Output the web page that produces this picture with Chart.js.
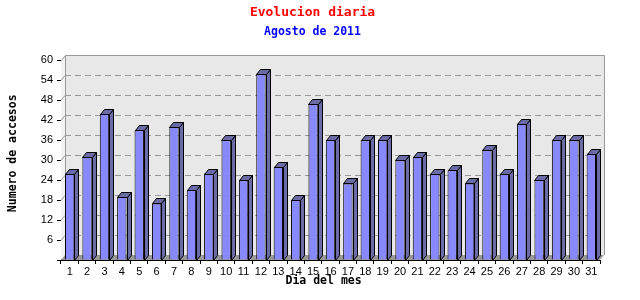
<!DOCTYPE html>
<html>
<head>
<meta charset="utf-8">
<script src="https://cdn.jsdelivr.net/npm/chart.js@4.4.0/dist/chart.umd.min.js"></script>
<style>
  body { margin: 0; background: #fff; }
</style>
</head>
<body>
<canvas id="grafico" width="640" height="300"></canvas>
<script>
// Datos
const dias = ['1','2','3','4','5','6','7','8','9','10','11','12','13','14','15','16',
              '17','18','19','20','21','22','23','24','25','26','27','28','29','30','31'];
const accesos = [26, 31, 44, 19, 39, 17, 40, 21, 26, 36, 24, 56, 28, 18, 47, 36,
                 23, 36, 36, 30, 31, 26, 27, 23, 33, 26, 41, 24, 36, 36, 32];
const yMin = 0;
const yMax = 60;
const yPaso = 6;

// profundidad del efecto 3D
const DX = 4;
const DY = 5;

// Fondo, suelo y rejilla en el plano trasero
const fondo3d = {
    id: 'fondo3d',
    beforeDatasetsDraw(chart) {
        const { ctx, chartArea: a, scales } = chart;
        ctx.save();
        // pared izquierda
        ctx.fillStyle = '#f2f2f2';
        ctx.beginPath();
        ctx.moveTo(a.left, a.top);
        ctx.lineTo(a.left + DX, a.top - DY);
        ctx.lineTo(a.left + DX, a.bottom - DY);
        ctx.lineTo(a.left, a.bottom);
        ctx.closePath();
        ctx.fill();
        // plano trasero
        ctx.fillStyle = '#e8e8e8';
        ctx.fillRect(a.left + DX, a.top - DY, a.right - a.left, a.bottom - a.top);
        // suelo
        ctx.fillStyle = '#999999';
        ctx.beginPath();
        ctx.moveTo(a.left, a.bottom);
        ctx.lineTo(a.right, a.bottom);
        ctx.lineTo(a.right + DX, a.bottom - DY);
        ctx.lineTo(a.left + DX, a.bottom - DY);
        ctx.closePath();
        ctx.fill();
        // rejilla discontinua
        ctx.strokeStyle = '#999999';
        ctx.lineWidth = 1;
        for (let v = yMin + yPaso; v < yMax; v += yPaso) {
            const y = Math.round(scales.y.getPixelForValue(v)) + 0.5;
            ctx.setLineDash([]);
            ctx.beginPath();
            ctx.moveTo(a.left, y);
            ctx.lineTo(a.left + DX, y - DY);
            ctx.stroke();
            ctx.setLineDash([6, 4]);
            ctx.beginPath();
            ctx.moveTo(a.left + DX, y - DY);
            ctx.lineTo(a.right + DX, y - DY);
            ctx.stroke();
        }
        ctx.setLineDash([]);
        // bordes del plano trasero
        const l = Math.round(a.left + DX) + 0.5;
        const r = Math.round(a.right + DX) + 0.5;
        const t = Math.round(a.top - DY) + 0.5;
        ctx.beginPath();
        ctx.moveTo(a.left + 0.5, a.top);
        ctx.lineTo(l, t);
        ctx.lineTo(r, t);
        ctx.lineTo(r, a.bottom - DY);
        ctx.moveTo(l, t);
        ctx.lineTo(l, a.bottom - DY);
        ctx.stroke();
        ctx.restore();
    },
    afterDatasetsDraw(chart) {
        const { ctx } = chart;
        const meta = chart.getDatasetMeta(0);
        ctx.save();
        ctx.fillStyle = '#6b6ba5';
        ctx.strokeStyle = '#000000';
        ctx.lineWidth = 1;
        meta.data.forEach(bar => {
            const p = bar.getProps(['x', 'y', 'width', 'base'], true);
            const izq = Math.round(p.x - p.width / 2) + 0.5;
            const der = Math.round(p.x + p.width / 2) + 0.5;
            const arriba = Math.round(p.y) + 0.5;
            const abajo = Math.round(p.base) + 0.5;
            // cara lateral
            ctx.beginPath();
            ctx.moveTo(der, arriba);
            ctx.lineTo(der + DX, arriba - DY);
            ctx.lineTo(der + DX, abajo - DY);
            ctx.lineTo(der, abajo);
            ctx.closePath();
            ctx.fill();
            ctx.stroke();
            // cara superior
            ctx.beginPath();
            ctx.moveTo(izq, arriba);
            ctx.lineTo(izq + DX, arriba - DY);
            ctx.lineTo(der + DX, arriba - DY);
            ctx.lineTo(der, arriba);
            ctx.closePath();
            ctx.fill();
            ctx.stroke();
        });
        ctx.restore();
    }
};

const ctx = document.getElementById('grafico').getContext('2d');
new Chart(ctx, {
    type: 'bar',
    data: {
        labels: dias,
        datasets: [{
            label: 'Accesos',
            data: accesos,
            backgroundColor: '#8888ff',
            borderColor: '#000000',
            borderWidth: 1,
            barPercentage: 0.54,
            categoryPercentage: 1.0
        }]
    },
    options: {
        responsive: false,
        animation: false,
        layout: { padding: { left: 25, right: 40, top: 0, bottom: 0 } },
        plugins: {
            legend: { display: false },
            tooltip: { enabled: false },
            title: {
                display: true,
                text: 'Evolucion diaria',
                color: '#ff0000',
                font: { family: 'DejaVu Sans Mono', size: 13, weight: 'bold' },
                padding: { top: 5, bottom: 3 }
            },
            subtitle: {
                display: true,
                text: 'Agosto de 2011',
                color: '#0000ff',
                font: { family: 'DejaVu Sans Mono', size: 11.5, weight: 'bold' },
                padding: { top: 1.5, bottom: 21.5 }
            }
        },
        scales: {
            x: {
                offset: true,
                grid: { display: true, drawOnChartArea: false, drawTicks: true, tickLength: 4, color: '#000000' },
                border: { display: true, color: '#000000' },
                ticks: {
                    color: '#000000',
                    font: { family: 'Liberation Sans', size: 11 },
                    padding: 1,
                    maxRotation: 0,
                    autoSkip: false
                },
                title: {
                    display: true,
                    text: 'Dia del mes  ',
                    color: '#000000',
                    font: { family: 'DejaVu Sans Mono', size: 11.5, weight: 'bold' },
                    padding: { top: 0, bottom: 12 }
                },
                afterFit(scale) { scale.height = 40; }
            },
            y: {
                min: yMin,
                max: yMax,
                grid: { display: true, drawOnChartArea: false, drawTicks: true, tickLength: 4, color: '#000000' },
                border: { display: true, color: '#000000' },
                ticks: {
                    stepSize: yPaso,
                    color: '#000000',
                    font: { family: 'Liberation Sans', size: 11 },
                    padding: 4,
                    callback: v => (v === 0 ? '' : v)
                },
                title: {
                    display: true,
                    text: '  Numero de accesos',
                    color: '#000000',
                    font: { family: 'DejaVu Sans Mono', size: 11.5, weight: 'bold' },
                    padding: { top: -19, bottom: 0 }
                },
                afterFit(scale) { scale.width = 36; }
            }
        }
    },
    plugins: [fondo3d]
});
</script>
</body>
</html>
